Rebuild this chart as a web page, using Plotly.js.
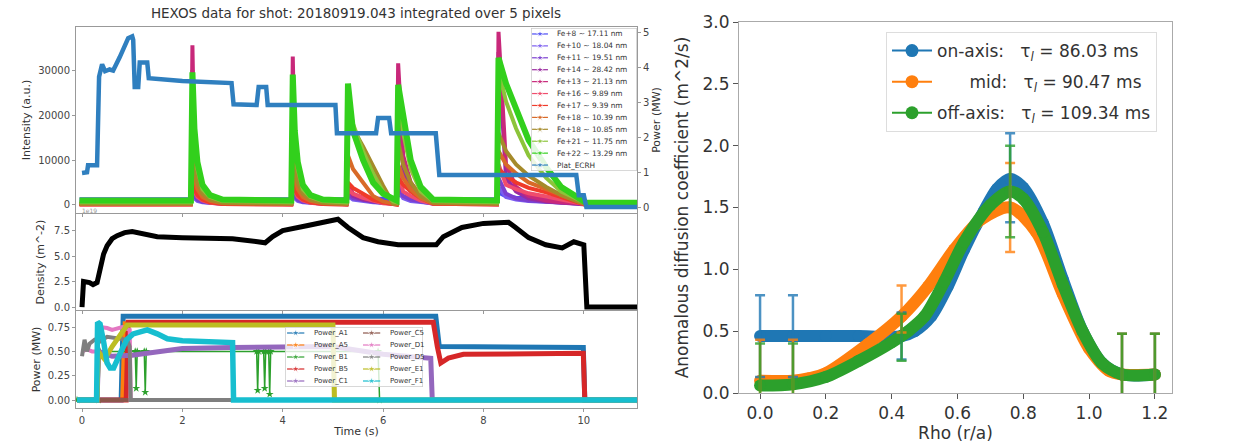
<!DOCTYPE html>
<html><head><meta charset="utf-8">
<script src="https://cdn.plot.ly/plotly-3.0.1.min.js"></script>
<style>html,body{margin:0;padding:0;background:#fff;overflow:hidden}#chart{width:1259px;height:443px}</style>
</head><body><div id="chart"></div>
<script>
// ================= DATA =================
const TITLE_LEFT = 'HEXOS data for shot: 20180919.043 integrated over 5 pixels';

// --- top-left panel: HEXOS Fe line intensities (a.u.) ---
const FE_LABELS = ['Fe+8 ~ 17.11 nm', 'Fe+10 ~ 18.04 nm', 'Fe+11 ~ 19.51 nm', 'Fe+14 ~ 28.42 nm',
  'Fe+13 ~ 21.13 nm', 'Fe+16 ~ 9.89 nm', 'Fe+17 ~ 9.39 nm', 'Fe+18 ~ 10.39 nm',
  'Fe+18 ~ 10.85 nm', 'Fe+21 ~ 11.75 nm', 'Fe+22 ~ 13.29 nm'];
const T_FE = [-0.05, 2.17, 2.2, 2.24, 2.3, 2.4, 2.55, 2.8, 4.17, 4.2, 4.24, 4.3, 4.4, 4.55, 4.8,
  5.27, 5.3, 5.4, 5.6, 5.8, 6.0, 6.2, 6.27, 6.3, 6.4, 6.55, 6.75, 7.0,
  8.27, 8.3, 8.45, 8.65, 8.9, 9.25, 9.55, 9.95, 10.05, 11.1];
const FE8 = [1300, 1300,2600,1800,1500,1400,1300,1300, 1300,2600,1800,1500,1400,1300,1300,
  1300,2200,1700,1500,1400,1300,1300, 1300,2600,1800,1500,1400,1300,
  1300,2800,1900,1600,1500,1400,1300,1300, 500,500];
const FE10 = [400, 400,3500,1500,900,600,500,400, 400,3500,1500,900,600,500,400,
  400,2000,1200,800,600,500,400, 400,3500,1500,900,600,400,
  400,4000,1800,1200,900,700,500,400, 300,300];
const FE11 = [300, 300,5000,2000,1200,700,500,300, 300,5000,2000,1200,700,500,300,
  300,2500,1500,1000,700,500,300, 300,4500,2000,1200,700,300,
  300,6000,2500,1500,1000,700,500,300, 200,200];
const FE14 = [200, 200,30000,8000,3500,1800,900,400, 200,28000,8000,3500,1800,900,400,
  200,4000,2000,1200,800,500,300, 200,27000,8000,3500,1500,400,
  200,34000,6000,3000,1500,800,500,300, 100,100];
const FE13 = [200, 200,35500,11000,5000,2500,1200,500, 200,33000,11000,5000,2500,1200,500,
  200,5000,2500,1600,1000,600,300, 200,31500,11000,5000,2000,500,
  200,38500,9000,4000,2000,1000,600,400, 100,100];
const FE16 = [100, 100,8000,3000,1800,1000,500,200, 100,7500,3000,1800,1000,500,200,
  100,3500,2500,1600,900,400,200, 100,7500,3000,2000,1000,300,
  100,9000,4500,3500,2600,1900,1300,300, 0,0];
const FE17 = [100, 100,6000,3500,2200,1200,600,200, 100,6000,3500,2200,1200,600,200,
  100,5000,3800,2500,1200,600,200, 100,6000,4500,3000,1500,300,
  100,8000,6500,5000,3800,2800,1800,300, 0,0];
const FE18A = [200, 200,10000,6000,3500,1800,900,400, 200,10000,6000,3500,1800,900,400,
  200,11000,8000,5000,2000,800,300, 200,9000,6000,3500,1500,400,
  200,12000,9000,7000,5000,3500,2200,400, 100,100];
const FE18B = [300, 300,15000,9000,5000,2500,1200,500, 300,14000,8500,5000,2500,1200,500,
  300,20000,17000,13000,8600,4300,300, 300,14000,9000,5000,2000,500,
  300,16000,12000,9000,6500,4000,2200,500, 200,200];
const FE21 = [600, 600,27000,14000,8000,3500,1800,900, 600,26000,14000,8000,3500,1800,900,
  600,24000,18000,12000,7000,3000,800, 600,24000,16000,8000,3000,900,
  600,30000,23000,17000,11000,6000,3000,900, 400,400];
const FE22 = [1000, 1000,29500,17000,9500,4500,2200,1200, 1000,29000,16500,9500,4500,2200,1200,
  1000,27000,16500,10000,5000,2500,1100, 1000,26700,19500,10000,4000,1200,
  1000,32700,27000,21000,14400,8400,4000,1200, 500,500];
const ECRH_LABEL = 'Plat_ECRH';
const T_ECRH = [0.0, 0.1, 0.12, 0.3, 0.31, 0.32, 0.34, 0.4, 0.46, 0.55, 0.62, 0.75, 0.92, 1.0, 1.02, 1.05,
  1.12, 1.15, 1.3, 1.33, 2.0, 2.98, 3.02, 3.48, 3.52, 3.67, 3.7, 5.05, 5.08, 5.86, 5.9, 6.12, 6.16,
  7.05, 7.12, 9.85, 9.9, 10.0, 10.05, 11.1];
const P_ECRH = [0.98, 1.0, 1.2, 1.2, 1.84, 2.44, 3.74, 4.1, 3.9, 3.95, 3.92, 4.3, 4.85, 4.9, 4.8, 3.45,
  3.45, 4.15, 4.15, 3.7, 3.62, 3.56, 2.95, 2.93, 3.45, 3.45, 2.93, 2.93, 2.12, 2.12, 2.56, 2.56, 2.12,
  2.12, 0.92, 0.92, 0.34, 0.34, 0.0, 0.0];

// --- middle panel: line density (1e19 m^-2) ---
const T_DENS = [0.0, 0.03, 0.15, 0.22, 0.3, 0.36, 0.43, 0.5, 0.6, 0.7, 0.85, 1.0, 1.2, 1.5, 2.0, 2.5, 3.0,
  3.5, 3.65, 3.8, 4.0, 4.5, 5.0, 5.1, 5.3, 5.6, 5.9, 6.3, 6.6, 7.06, 7.2, 7.4, 7.57, 8.0, 8.5, 8.64,
  8.9, 9.24, 9.57, 9.8, 10.0, 10.06, 11.1];
const DENS = [0.0, 2.5, 2.4, 2.2, 2.4, 4.0, 5.2, 6.0, 6.7, 7.0, 7.3, 7.4, 7.2, 6.9, 6.8, 6.7, 6.7,
  6.4, 6.3, 6.9, 7.5, 8.0, 8.5, 8.6, 7.8, 6.8, 6.4, 6.1, 6.1, 6.1, 6.9, 7.4, 7.8, 8.2, 8.3, 7.8,
  6.8, 6.1, 5.8, 6.4, 6.1, 0.0, 0.0];

// --- bottom panel: gyrotron powers (MW) ---
const GY_LABELS = ['Power_A1', 'Power_A5', 'Power_B1', 'Power_B5', 'Power_C1',
  'Power_C5', 'Power_D1', 'Power_D5', 'Power_E1', 'Power_F1'];
const T_A1 = [-0.1, 0.78, 0.82, 7.05, 7.12, 9.99, 10.02, 11.1];
const P_A1 = [0.0, 0.0, 0.86, 0.86, 0.55, 0.54, 0.0, 0.0];
const T_A5 = [-0.1, 0.8, 0.85, 5.0, 5.03, 11.1];
const P_A5 = [0.0, 0.0, 0.79, 0.79, 0.0, 0.0];
const T_B1 = [-0.1, 0.33, 0.36, 1.06, 1.08, 1.1, 1.24, 1.26, 1.28, 3.48, 3.5, 3.52, 3.62, 3.64, 3.66,
  3.72, 3.74, 3.76, 5.9, 5.93, 11.1];
const P_B1 = [0.0, 0.0, 0.5, 0.5, 0.12, 0.5, 0.5, 0.08, 0.5, 0.5, 0.1, 0.5, 0.5, 0.12, 0.5,
  0.5, 0.06, 0.5, 0.5, 0.0, 0.0];
const T_B5 = [-0.1, 0.88, 0.92, 7.0, 7.08, 7.15, 7.3, 7.6, 9.99, 10.02, 11.1];
const P_B5 = [0.0, 0.0, 0.80, 0.80, 0.55, 0.38, 0.43, 0.47, 0.48, 0.0, 0.0];
const T_C1 = [-0.1, 0.3, 0.33, 0.6, 1.0, 1.5, 2.0, 3.0, 4.0, 5.0, 6.0, 6.95, 6.98, 11.1];
const P_C1 = [0.0, 0.0, 0.5, 0.45, 0.46, 0.5, 0.53, 0.54, 0.55, 0.55, 0.47, 0.43, 0.0, 0.0];
const T_C5 = [-0.1, 11.1];
const P_C5 = [0.0, 0.0];
const T_D1 = [0.0, 0.1, 0.2, 0.3, 0.35, 0.5, 0.6, 0.8, 0.95, 0.97, 11.1];
const P_D1 = [0.5, 0.52, 0.5, 0.5, 0.75, 0.74, 0.72, 0.75, 0.72, 0.0, 0.0];
const T_D5 = [0.0, 0.05, 0.1, 0.15, 0.25, 0.35, 0.5, 0.7, 0.9, 0.95, 0.97, 11.1];
const P_D5 = [0.45, 0.62, 0.5, 0.58, 0.62, 0.6, 0.65, 0.64, 0.62, 0.55, 0.0, 0.0];
const T_E1 = [-0.1, 0.3, 0.32, 0.45, 0.6, 0.9, 5.0, 5.03, 11.1];
const P_E1 = [0.0, 0.0, 0.5, 0.42, 0.55, 0.77, 0.77, 0.0, 0.0];
const T_F1 = [-0.1, 0.29, 0.31, 0.36, 0.43, 0.5, 0.56, 0.63, 0.76, 0.89, 1.02, 1.3, 1.5, 1.7, 2.0, 2.4,
  3.0, 3.02, 11.1];
const P_F1 = [0.0, 0.0, 0.8, 0.78, 0.6, 0.38, 0.33, 0.33, 0.48, 0.62, 0.68, 0.72, 0.68, 0.63, 0.61, 0.6,
  0.59, 0.0, 0.0];

// --- right plot: anomalous diffusion coefficient ---
const SERIES_NAMES = ['on-axis:', 'mid:', 'off-axis:'];
const TAU = ['86.03', '90.47', '109.34'];
const RHO_ON = [0, 0.1, 0.2, 0.3, 0.43, 0.47, 0.52, 0.57, 0.62, 0.68, 0.72, 0.76, 0.80, 0.86, 0.92, 0.98, 1.04, 1.1, 1.2];
const D_ON = [0.46, 0.46, 0.46, 0.46, 0.46, 0.5, 0.62, 0.86, 1.16, 1.47, 1.65, 1.73, 1.66, 1.37, 0.92, 0.5, 0.24, 0.15, 0.15];
const RHO_MID = [0, 0.1, 0.15, 0.2, 0.33, 0.43, 0.51, 0.59, 0.67, 0.76, 0.84, 0.92, 1.0, 1.06, 1.1, 1.2];
const D_MID = [0.1, 0.1, 0.12, 0.16, 0.4, 0.62, 0.86, 1.16, 1.4, 1.5, 1.3, 0.8, 0.36, 0.18, 0.15, 0.15];
const RHO_OFF = [0, 0.1, 0.2, 0.3, 0.4, 0.45, 0.5, 0.56, 0.62, 0.7, 0.76, 0.8, 0.86, 0.92, 0.98, 1.04, 1.1, 1.2];
const D_OFF = [0.06, 0.07, 0.13, 0.26, 0.41, 0.5, 0.62, 0.9, 1.22, 1.52, 1.63, 1.57, 1.3, 0.88, 0.5, 0.24, 0.15, 0.15];
const EB_RHO = [0, 0.1, 0.43, 0.76, 1.1, 1.2];
const EB_ON = [0.46, 0.46, 0.46, 1.74, 0.15, 0.15];
const ERR_ON = [0.33, 0.33, 0.19, 0.36, 0.33, 0.33];
const EB_MID = [0.1, 0.1, 0.68, 1.5, 0.15, 0.15];
const ERR_MID = [0.33, 0.33, 0.19, 0.36, 0.33, 0.33];
const EB_OFF = [0.06, 0.06, 0.45, 1.63, 0.15, 0.15];
const ERR_OFF = [0.34, 0.34, 0.19, 0.37, 0.33, 0.33];

// ================= STYLE / LAYOUT =================
const W = 1259, H = 443;
const FONT = 'DejaVu Sans, sans-serif';
const dx = (a, b) => [a / W, b / W];
const dy = (top, bottom) => [1 - bottom / H, 1 - top / H];

const FE_COLORS = ['#4b4bf5', '#7a5cf0', '#7b3fd0', '#9a2aa0', '#c8287a', '#f04c6c',
  '#f03a2a', '#d86a28', '#a58a2a', '#8cc43a', '#32d01c'];
const ECRH_COLOR = '#2f7fbf';
const TAB = ['#1f77b4', '#ff7f0e', '#2ca02c', '#d62728', '#9467bd', '#8c564b', '#e377c2', '#7f7f7f', '#bcbd22', '#17becf'];
const TAB_RGB = ['31,119,180', '255,127,14', '44,160,44'];
const GY_WIDTH = [5, 4, 1.5, 5, 5, 4, 4, 4, 5, 5.5];

const traces = [];

// top-left: Fe lines
const FE_DATA = [FE8, FE10, FE11, FE14, FE13, FE16, FE17, FE18A, FE18B, FE21, FE22];
FE_DATA.forEach((vals, i) => {
  traces.push({x: T_FE, y: vals, xaxis: 'x', yaxis: 'y', type: 'scatter', mode: 'lines',
    line: {color: FE_COLORS[i], width: i === 10 ? 6 : 4}, showlegend: false, hoverinfo: 'skip'});
});
traces.push({x: T_ECRH, y: P_ECRH, xaxis: 'x', yaxis: 'y2', type: 'scatter', mode: 'lines',
  line: {color: ECRH_COLOR, width: 4.5}, showlegend: false, hoverinfo: 'skip'});

// middle: density
traces.push({x: T_DENS, y: DENS, xaxis: 'x2', yaxis: 'y3', type: 'scatter', mode: 'lines',
  line: {color: '#000', width: 5}, showlegend: false, hoverinfo: 'skip'});

// bottom: gyrotrons
const GY_T = [T_A1, T_A5, T_B1, T_B5, T_C1, T_C5, T_D1, T_D5, T_E1, T_F1];
const GY_P = [P_A1, P_A5, P_B1, P_B5, P_C1, P_C5, P_D1, P_D5, P_E1, P_F1];
GY_T.forEach((t, i) => {
  traces.push({x: t, y: GY_P[i], xaxis: 'x3', yaxis: 'y4', type: 'scatter',
    mode: i === 2 ? 'lines+markers' : 'lines',
    marker: {symbol: 'star', size: 6, color: TAB[i]},
    line: {color: TAB[i], width: GY_WIDTH[i]}, showlegend: false, hoverinfo: 'skip'});
});

// right: thick profile bands
const R_X = [RHO_ON, RHO_MID, RHO_OFF];
const R_Y = [D_ON, D_MID, D_OFF];
R_X.forEach((x, i) => {
  traces.push({x: x, y: R_Y[i], xaxis: 'x4', yaxis: 'y5', type: 'scatter', mode: 'lines+markers',
    line: {color: TAB[i], width: 12, shape: 'spline', smoothing: 0.8},
    marker: {color: TAB[i], size: 12}, showlegend: false, hoverinfo: 'skip'});
});
// error bars
const EB_Y = [EB_ON, EB_MID, EB_OFF];
const EB_E = [ERR_ON, ERR_MID, ERR_OFF];
EB_Y.forEach((y, i) => {
  traces.push({x: EB_RHO, y: y, xaxis: 'x4', yaxis: 'y5', type: 'scatter', mode: 'markers',
    marker: {size: 1, opacity: 0, color: TAB[i]},
    error_y: {type: 'data', array: EB_E[i], visible: true, color: 'rgba(' + TAB_RGB[i] + ',0.8)', thickness: 2.5, width: 5},
    showlegend: false, hoverinfo: 'skip'});
});
// legend entries for right plot
SERIES_NAMES.forEach((nm, i) => {
  const pad = i === 1 ? '\u00a0\u00a0\u00a0\u00a0\u00a0\u00a0' : '';
  traces.push({x: [null], y: [null], xaxis: 'x4', yaxis: 'y5', type: 'scatter', mode: 'lines+markers',
    name: pad + nm + '\u00a0\u00a0\u00a0τ<sub><i>l</i></sub> = ' + TAU[i] + ' ms',
    legendgroup: 'g' + i, line: {color: TAB[i], width: 2}, marker: {color: TAB[i], size: 13}});
});

// compact legends drawn on their own invisible axes (frame = semi-transparent box over the panel)
const TOPLEG_LABELS = FE_LABELS.concat([ECRH_LABEL]);
const TOPLEG_COLORS = FE_COLORS.concat([ECRH_COLOR]);
const TOPLEG_XR = [0, 1], TOPLEG_YR = [TOPLEG_LABELS.length + 0.5, 0.5];
const BOTLEG_XR = [0, 2], BOTLEG_YR = [5.5, 0.5];
function boxTrace(xa, ya, xr, yr, alpha) {
  return {x: [xr[0], xr[1], xr[1], xr[0], xr[0]], y: [yr[0], yr[0], yr[1], yr[1], yr[0]],
    xaxis: xa, yaxis: ya, type: 'scatter', mode: 'lines', fill: 'toself',
    fillcolor: 'rgba(255,255,255,' + alpha + ')', line: {color: '#ccc', width: 1.5},
    showlegend: false, hoverinfo: 'skip', cliponaxis: false};
}
traces.push(boxTrace('x5', 'y6', TOPLEG_XR, TOPLEG_YR, 0.85));
traces.push(boxTrace('x6', 'y7', BOTLEG_XR, BOTLEG_YR, 0.8));

const annotations = [];
TOPLEG_LABELS.forEach((lab, i) => {
  traces.push({x: [0.01, 0.085, 0.16], y: [i + 1, i + 1, i + 1], xaxis: 'x5', yaxis: 'y6', type: 'scatter',
    mode: 'lines+markers', line: {color: TOPLEG_COLORS[i], width: 1.2},
    marker: {symbol: 'star', size: [0, 6, 0], color: TOPLEG_COLORS[i]}, showlegend: false, hoverinfo: 'skip'});
  annotations.push({xref: 'x5', yref: 'y6', x: 0.225, y: i + 1, text: lab, showarrow: false,
    xanchor: 'left', yanchor: 'middle', font: {family: FONT, size: 7.4, color: '#333'}});
});
GY_LABELS.forEach((lab, i) => {
  const col = Math.floor(i / 5), row = (i % 5) + 1;
  const off = col * 1.10;
  traces.push({x: [off + 0.03, off + 0.155, off + 0.28], y: [row, row, row], xaxis: 'x6', yaxis: 'y7', type: 'scatter',
    mode: 'lines+markers', line: {color: TAB[i], width: 1.2},
    marker: {symbol: 'star', size: [0, 6, 0], color: TAB[i]}, showlegend: false, hoverinfo: 'skip'});
  annotations.push({xref: 'x6', yref: 'y7', x: off + 0.39, y: row, text: lab, showarrow: false,
    xanchor: 'left', yanchor: 'middle', font: {family: FONT, size: 7, color: '#333'}});
});

// offset text of the density axis
annotations.push({xref: 'paper', yref: 'paper', x: 80 / W, y: 1 - 210 / H, text: '1e19', showarrow: false,
  xanchor: 'left', yanchor: 'middle', font: {family: FONT, size: 6, color: '#999'}});

const LC = '#999';
const axBase = {showline: true, mirror: true, linecolor: LC, linewidth: 1, ticks: 'outside', ticklen: 3,
  tickcolor: LC, showgrid: false, zeroline: false, automargin: false,
  tickfont: {family: FONT, size: 10, color: '#444'}};
const tFont = {family: FONT, size: 11, color: '#333'};
const TIME_RANGE = [-0.12, 11.06];
const TIME_TICKS = [0, 2, 4, 6, 8, 10];
const rFont = {family: FONT, size: 17, color: '#333'};
const invis = {visible: false, showgrid: false, zeroline: false, fixedrange: true};

const layout = {
  width: W, height: H, margin: {l: 0, r: 0, t: 0, b: 0}, paper_bgcolor: '#fff', plot_bgcolor: 'rgba(0,0,0,0)',
  font: {family: FONT},
  title: {text: TITLE_LEFT, x: 356 / W, y: 1 - 13 / H, xref: 'paper', yref: 'paper', xanchor: 'center', yanchor: 'middle',
    font: {family: FONT, size: 13.5, color: '#333'}},
  xaxis: Object.assign({}, axBase, {domain: dx(76, 637), range: TIME_RANGE, anchor: 'y', tickvals: TIME_TICKS, showticklabels: false}),
  yaxis: Object.assign({}, axBase, {domain: dy(27, 213), range: [-1780, 39560], anchor: 'x', tickvals: [0, 10000, 20000, 30000],
    tickformat: 'd', title: {text: 'Intensity (a.u.)', font: tFont, standoff: 5}}),
  yaxis2: Object.assign({}, axBase, {overlaying: 'y', side: 'right', anchor: 'x', range: [-0.17, 5.17], tickvals: [0, 1, 2, 3, 4, 5],
    mirror: false, title: {text: 'Power (MW)', font: tFont, standoff: 3}}),
  xaxis2: Object.assign({}, axBase, {domain: dx(76, 637), range: TIME_RANGE, anchor: 'y3', tickvals: TIME_TICKS, showticklabels: false}),
  yaxis3: Object.assign({}, axBase, {domain: dy(214, 310), range: [-0.29, 9.12], anchor: 'x2', tickvals: [0, 2.5, 5, 7.5],
    tickformat: '.1f', title: {text: 'Density (m^-2)', font: tFont, standoff: 7}}),
  xaxis3: Object.assign({}, axBase, {domain: dx(76, 637), range: TIME_RANGE, anchor: 'y4', tickvals: TIME_TICKS,
    title: {text: 'Time (s)', font: tFont, standoff: 2}}),
  yaxis4: Object.assign({}, axBase, {domain: dy(311, 408), range: [-0.082, 0.915], anchor: 'x3', tickvals: [0, 0.25, 0.5, 0.75],
    tickformat: '.2f', title: {text: 'Power (MW)', font: tFont, standoff: 4}}),
  xaxis4: Object.assign({}, axBase, {domain: dx(739, 1172), range: [-0.064, 1.252], anchor: 'y5',
    tickvals: [0, 0.2, 0.4, 0.6, 0.8, 1.0, 1.2], tickformat: '.1f', ticklen: 5, linecolor: '#aaa', tickcolor: '#555',
    tickfont: rFont, title: {text: 'Rho (r/a)', font: rFont, standoff: 4}}),
  yaxis5: Object.assign({}, axBase, {domain: dy(22, 393), range: [0, 3], anchor: 'x4',
    tickvals: [0, 0.5, 1, 1.5, 2, 2.5, 3], tickformat: '.1f', ticklen: 5, linecolor: '#aaa', tickcolor: '#555',
    tickfont: rFont, title: {text: 'Anomalous diffusion coefficient (m^2/s)', font: rFont, standoff: 9}}),
  xaxis5: Object.assign({}, invis, {domain: dx(531, 637), range: TOPLEG_XR, anchor: 'y6'}),
  yaxis6: Object.assign({}, invis, {domain: dy(28, 171), range: TOPLEG_YR, anchor: 'x5'}),
  xaxis6: Object.assign({}, invis, {domain: dx(285, 423), range: BOTLEG_XR, anchor: 'y7'}),
  yaxis7: Object.assign({}, invis, {domain: dy(327, 387), range: BOTLEG_YR, anchor: 'x6'}),
  annotations: annotations,
  showlegend: true,
  legend: {x: 886 / W, y: 1 - 32 / H, xanchor: 'left', yanchor: 'top', bgcolor: 'rgba(255,255,255,0.85)',
    bordercolor: '#ddd', borderwidth: 1, font: {family: FONT, size: 17, color: '#333'}, itemwidth: 40,
    traceorder: 'grouped', tracegroupgap: 6}
};

Plotly.newPlot('chart', traces, layout, {staticPlot: true, displayModeBar: false});
</script>
</body></html>
